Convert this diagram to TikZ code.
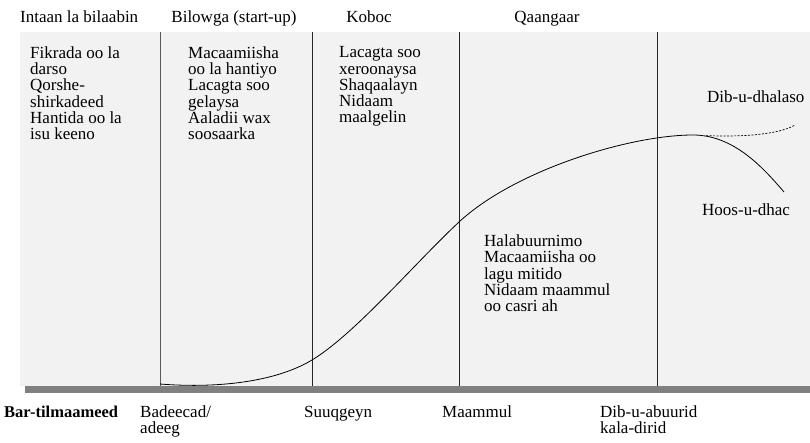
\documentclass[tikz,border=0pt]{standalone}
\usepackage{fontspec}
\setmainfont{Liberation Serif}
\definecolor{panelbg}{HTML}{F2F2F2}
\definecolor{bargray}{HTML}{808080}
\tikzset{
  lbl/.style={inner sep=0pt, font=\fontsize{17}{16.3}\selectfont},
  coltext/.style={lbl, align=left, anchor=north west},
  head/.style={lbl, anchor=base},
  divider/.style={line width=0.9pt, draw=black!85},
  curve/.style={line width=0.8pt, draw=black}
}
\begin{document}
\begin{tikzpicture}[x=1pt,y=-1pt]
\useasboundingbox (0,0) rectangle (810,442);
% panel and bar
\fill[panelbg] (20,32) rectangle (810,386);
\fill[bargray] (25,386) rectangle (810,393);
% dividers
\coordinate (d1t) at (160,32); \coordinate (d1b) at (160,386);
\coordinate (d2t) at (312,32); \coordinate (d2b) at (312,386);
\coordinate (d3t) at (459,32); \coordinate (d3b) at (459,386);
\coordinate (d4t) at (657,32); \coordinate (d4b) at (657,386);
\draw[divider, draw=black!65] (d1t) -- (d1b);
\draw[divider] (d2t) -- (d2b);
\draw[divider] (d3t) -- (d3b);
\draw[divider] (d4t) -- (d4b);
% headers
\node[lbl, anchor=base west] (h1) at (20,22) {Intaan la bilaabin};
\node[head] (h2) at (234,22) {Bilowga (start-up)};
\node[head] (h3) at (369,22) {Koboc};
\node[head] (h4) at (547,22) {Qaangaar};
% column texts
\node[coltext] (c1) at (30,46.4) {Fikrada oo la\\darso\\Qorshe-\\shirkadeed\\Hantida oo la\\isu keeno};
\node[coltext] (c2) at (188,46.4) {Macaamiisha\\oo la hantiyo\\Lacagta soo\\gelaysa\\Aaladii wax\\soosaarka};
\node[coltext] (c3) at (339,46.4) {Lacagta soo\\xeroonaysa\\Shaqaalayn\\Nidaam\\maalgelin};
\node[coltext] (c4) at (484,234.6) {Halabuurnimo\\Macaamiisha oo\\lagu mitido\\Nidaam maammul\\oo casri ah};
% curve
\coordinate (p0) at (160,384);
\coordinate (p1) at (312,360);
\coordinate (p2) at (459,222);
\coordinate (p3) at (693,135);
\coordinate (p4) at (784,192);
\draw[curve] (p0) .. controls (210,388) and (272,384) .. (p1)
  .. controls (355,334) and (415,263) .. (p2)
  .. controls (515,170) and (630,135) .. (p3)
  .. controls (735,135) and (765,170) .. (p4);
\coordinate (dstart) at (706,135.6);
\coordinate (dend) at (795,125);
\draw[curve, line width=0.7pt, dash pattern=on 2pt off 1.5pt] (dstart) .. controls (740,137) and (778,135) .. (dend);
\node[lbl, anchor=base west] (rebirth) at (707,102) {Dib-u-dhalaso};
\node[lbl, anchor=base west] (decline) at (702,215) {Hoos-u-dhac};
% bottom labels
\node[lbl, anchor=base west, font=\fontsize{16.5}{16}\selectfont\bfseries] (bt) at (4,417) {Bar-tilmaameed};
\node[lbl, anchor=north west, align=left] (b1) at (140,405.4) {Badeecad/\\adeeg};
\node[lbl, anchor=base west] (b2) at (304,417) {Suuqgeyn};
\node[lbl, anchor=base west] (b3) at (442,417) {Maammul};
\node[lbl, anchor=north west, align=left] (b4) at (600,405.4) {Dib-u-abuurid\\kala-dirid};
\end{tikzpicture}
\end{document}
